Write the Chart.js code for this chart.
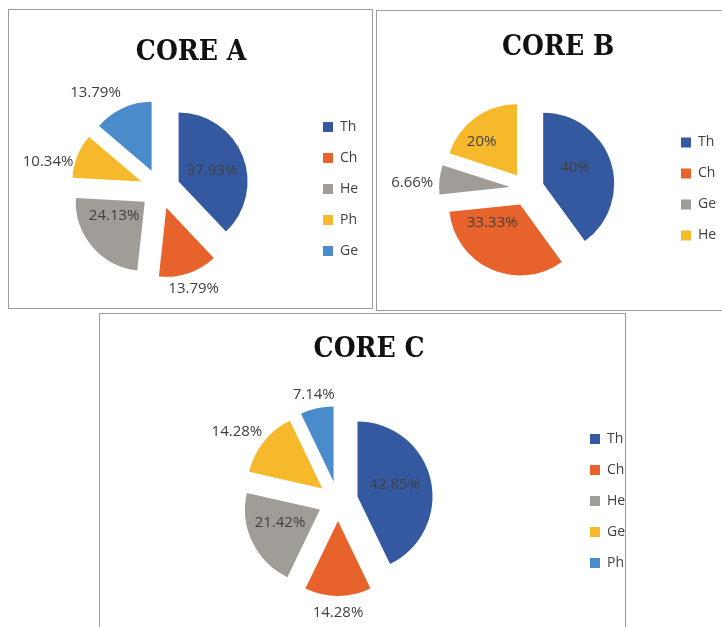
<!DOCTYPE html>
<html>
<head>
<meta charset="utf-8">
<script src="https://cdn.jsdelivr.net/npm/chart.js@4.4.1/dist/chart.umd.min.js"></script>
<style>
  body { margin: 0; background: #fff; width: 722px; height: 627px; overflow: hidden; position: relative; }
  .panel { position: absolute; border: 1px solid #9c9c9c; background: #fff; overflow: hidden; }
  .panel canvas { position: absolute; left: 0; top: 0; }
</style>
</head>
<body>
<div class="panel" style="left:8px;top:9px;width:363px;height:298px"><canvas id="core-a"></canvas></div>
<div class="panel" style="left:376px;top:10px;width:350px;height:299px"><canvas id="core-b"></canvas></div>
<div class="panel" style="left:99px;top:313px;width:525px;height:330px"><canvas id="core-c"></canvas></div>
<script>
// data (percent of each core)
const coreALabels = ["Th", "Ch", "He", "Ph", "Ge"];
const coreAValues = [37.93, 13.79, 24.13, 10.34, 13.79];
const coreBLabels = ["Th", "Ch", "Ge", "He"];
const coreBValues = [40, 33.33, 6.66, 20];
const coreCLabels = ["Th", "Ch", "He", "Ge", "Ph"];
const coreCValues = [42.85, 14.28, 21.42, 14.28, 7.14];

const palette = ["#3559A0", "#E8632B", "#A09C98", "#F6B92B", "#4A8BCB"];
const textColor = "#404040";
const LEGEND_FONT = 14;
const LEGEND_PAD = 17;
const LEGEND_BOX = 10;
const TITLE_SIZE = 28;

const legendWidth = (labels) => {
  const ctx = document.createElement("canvas").getContext("2d");
  ctx.font = `${LEGEND_FONT}px 'Open Sans', sans-serif`;
  const textW = Math.max(...labels.map((l) => ctx.measureText(l).width));
  return LEGEND_PAD + LEGEND_BOX + LEGEND_FONT / 2 + textW + 10;
};

// excel style exploded pie: every slice pushed out by the same distance,
// radius kept (chart.js "offset" also grows the radius, so draw it here)
const explodeSlices = {
  id: "explodeSlices",
  beforeDatasetDraw(chart, args, opts) {
    const { ctx } = chart;
    args.meta.data.forEach((arc) => {
      const mid = (arc.startAngle + arc.endAngle) / 2;
      ctx.save();
      ctx.translate(Math.cos(mid) * opts.distance, Math.sin(mid) * opts.distance);
      arc.draw(ctx);
      ctx.restore();
    });
    return false;
  },
};

const sliceLabels = {
  id: "sliceLabels",
  afterDatasetsDraw(chart, args, opts) {
    const { ctx } = chart;
    const meta = chart.getDatasetMeta(0);
    const values = chart.data.datasets[0].data;
    const explode = chart.options.plugins.explodeSlices.distance;
    ctx.save();
    ctx.font = "15px 'Open Sans', sans-serif";
    ctx.fillStyle = textColor;
    ctx.textAlign = "center";
    ctx.textBaseline = "middle";
    meta.data.forEach((arc, i) => {
      const { x, y, startAngle, endAngle, outerRadius } = arc.getProps(
        ["x", "y", "startAngle", "endAngle", "outerRadius"],
        true
      );
      const mid = (startAngle + endAngle) / 2 + (opts.nudge[i] * Math.PI) / 180;
      const dist = explode + outerRadius * opts.reach[i];
      ctx.fillText(`${values[i]}%`, x + Math.cos(mid) * dist, y + Math.sin(mid) * dist);
    });
    ctx.restore();
  },
};

const makeCore = (id, title, labels, values, box) => {
  const canvas = document.getElementById(id);
  canvas.width = box.width;
  canvas.height = box.height;
  const lh = TITLE_SIZE * 1.2;
  const chartTop = box.titleY + lh / 2;
  const chartBottom = 2 * box.pieY - chartTop;
  return new Chart(canvas, {
    type: "pie",
    data: {
      labels: labels,
      datasets: [
        {
          data: values,
          backgroundColor: palette.slice(0, values.length),
          borderWidth: 0,
        },
      ],
    },
    options: {
      responsive: false,
      animation: false,
      radius: box.radius,
      layout: {
        padding: {
          left: 2 * box.pieX - box.legendLeft,
          right: box.width - box.legendLeft - legendWidth(labels),
          top: 0,
          bottom: box.height - chartBottom,
        },
      },
      plugins: {
        title: {
          display: true,
          text: title,
          color: "#111",
          font: {
            family: "'DejaVu Serif Condensed', 'DejaVu Serif', serif",
            size: TITLE_SIZE,
            weight: "bold",
            lineHeight: 1.2,
          },
          padding: { top: box.titleY - lh / 2, bottom: 0 },
        },
        legend: {
          position: "right",
          fullSize: false,
          labels: {
            boxWidth: LEGEND_BOX,
            boxHeight: LEGEND_BOX,
            padding: LEGEND_PAD,
            color: textColor,
            font: { family: "'Open Sans', sans-serif", size: LEGEND_FONT },
          },
        },
        tooltip: { enabled: false },
        explodeSlices: { distance: box.explode },
        sliceLabels: { reach: box.reach, nudge: box.nudge },
      },
    },
    plugins: [explodeSlices, sliceLabels],
  });
};

makeCore("core-a", "CORE A", coreALabels, coreAValues, {
  width: 363, height: 298, titleY: 43, pieX: 151, pieY: 179,
  legendLeft: 297, radius: 69, explode: 20,
  reach: [0.51, 1.24, 0.48, 1.38, 1.39],
  nudge: [2, 0, 10, -8, -9],
});

makeCore("core-b", "CORE B", coreBLabels, coreBValues, {
  width: 350, height: 302, titleY: 37, pieX: 150, pieY: 178,
  legendLeft: 287, radius: 71, explode: 17,
  reach: [0.5, 0.44, 1.38, 0.68],
  nudge: [-6, 22, -3, -8],
});

makeCore("core-c", "CORE C", coreCLabels, coreCValues, {
  width: 525, height: 321, titleY: 36, pieX: 238, pieY: 187,
  legendLeft: 473, radius: 75, explode: 20,
  reach: [0.52, 1.23, 0.56, 1.37, 1.19],
  nudge: [-3, 0, 5, -4, 0],
});
</script>
</body>
</html>
